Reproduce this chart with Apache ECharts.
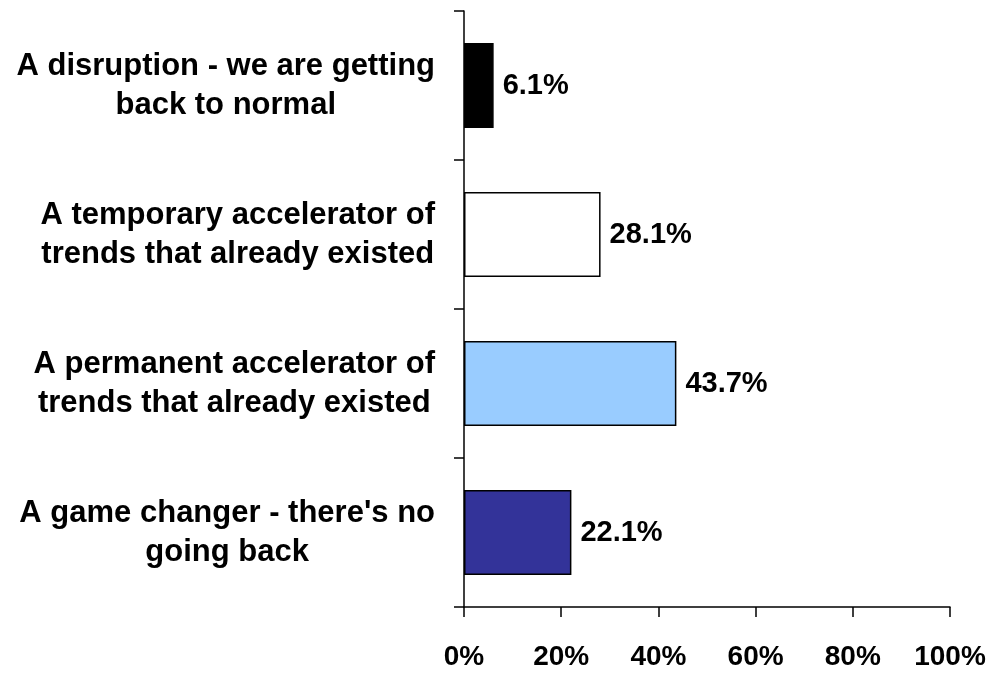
<!DOCTYPE html>
<html>
<head>
<meta charset="utf-8">
<script src="https://cdn.jsdelivr.net/npm/echarts@6/dist/echarts.min.js"></script>
<style>
  html, body { margin: 0; padding: 0; background: #ffffff; }
  #chart { width: 993px; height: 673px; }
</style>
</head>
<body>
<div id="chart"></div>
<script>
// Survey answers, listed top to bottom
const categories = [
  'A disruption - we are getting\nback to normal',
  'A temporary accelerator of\ntrends that already existed',
  'A permanent accelerator of\ntrends that already existed',
  "A game changer - there's no\ngoing back"
];
const shares = [6.1, 28.1, 43.7, 22.1];
const barColors = ['#000000', '#ffffff', '#99ccff', '#333399'];
const xTicks = [0, 20, 40, 60, 80, 100];

const FONT = '"Liberation Sans", Arial, sans-serif';

const chart = echarts.init(document.getElementById('chart'), null, { renderer: 'canvas' });

chart.setOption({
  backgroundColor: '#ffffff',
  animation: false,
  grid: { left: 464, right: 43, top: 11, bottom: 66, containLabel: false },
  xAxis: {
    type: 'value',
    min: xTicks[0],
    max: xTicks[xTicks.length - 1],
    interval: xTicks[1] - xTicks[0],
    splitLine: { show: false },
    axisLine: { show: true, lineStyle: { color: '#000', width: 1.5 } },
    axisTick: { show: true, length: 10, lineStyle: { color: '#000', width: 1.5 } },
    axisLabel: {
      margin: 36,
      color: '#000',
      fontFamily: FONT,
      fontWeight: 'bold',
      fontSize: 28,
      formatter: v => v + '%'
    }
  },
  yAxis: {
    type: 'category',
    inverse: true,
    data: categories,
    axisLine: { show: true, lineStyle: { color: '#000', width: 1.5 } },
    axisTick: { show: true, length: 10, lineStyle: { color: '#000', width: 1.5 } },
    axisLabel: {
      margin: 29,
      align: 'right',
      color: '#000',
      fontFamily: FONT,
      fontWeight: 'bold',
      fontSize: 31,
      lineHeight: 39,
      // each line centred inside the right-anchored label block
      formatter: v => v.split('\n').map(s => '{c|' + s + '}').join('\n'),
      rich: {
        c: {
          align: 'center',
          color: '#000',
          fontFamily: FONT,
          fontWeight: 'bold',
          fontSize: 31,
          lineHeight: 39
        }
      }
    }
  },
  series: [{
    type: 'bar',
    data: shares.map((v, i) => ({ value: v, itemStyle: { color: barColors[i] } })),
    barCategoryGap: '43%',
    itemStyle: { borderColor: '#000', borderWidth: 1.5 },
    label: {
      show: true,
      position: 'right',
      distance: 9,
      color: '#000',
      fontFamily: FONT,
      fontWeight: 'bold',
      fontSize: 29,
      formatter: p => p.value.toFixed(1) + '%'
    }
  }]
});
</script>
</body>
</html>
